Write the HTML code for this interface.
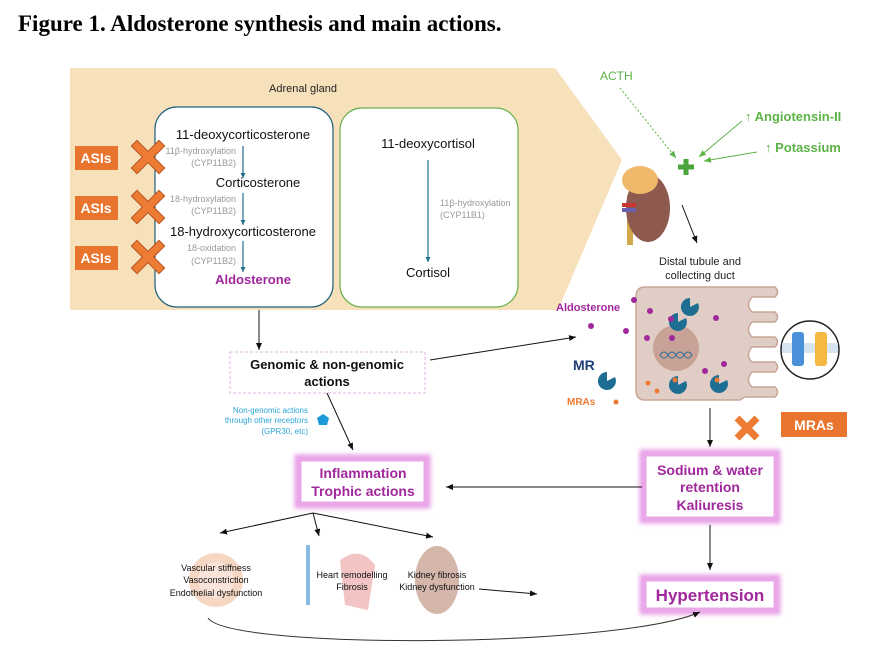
<!DOCTYPE html>
<html><head><meta charset="utf-8"><style>
body{margin:0;background:#fff;}
svg{display:block;font-family:"Liberation Sans",Arial,sans-serif;}
</style></head><body>
<svg width="877" height="658" viewBox="0 0 877 658" xmlns="http://www.w3.org/2000/svg">
<defs>
<marker id="a" markerWidth="8" markerHeight="8" refX="7" refY="4" orient="auto" markerUnits="userSpaceOnUse"><path d="M0,1 L7,4 L0,7 Z" fill="#111"/></marker>
<marker id="ab" markerWidth="6" markerHeight="6" refX="5" refY="3" orient="auto" markerUnits="userSpaceOnUse"><path d="M0,0.5 L5,3 L0,5.5 Z" fill="#1f6f8b"/></marker>
<marker id="ag" markerWidth="8" markerHeight="8" refX="7" refY="4" orient="auto" markerUnits="userSpaceOnUse"><path d="M0,1 L7,4 L0,7 Z" fill="#5cb346"/></marker>
<filter id="glow" x="-20%" y="-20%" width="140%" height="140%"><feGaussianBlur stdDeviation="2.5"/></filter>
</defs>
<text x="18" y="31" font-family="Liberation Serif,serif" font-weight="bold" font-size="23" fill="#000">Figure 1. Aldosterone synthesis and main actions.</text>

<path d="M70,68 L555,68 L622,160 L558,310 L70,310 Z" fill="#f5deb3" opacity="0.9"/>
<text x="303" y="92" font-size="11" text-anchor="middle" fill="#222">Adrenal gland</text>

<rect x="155" y="107" width="178" height="200" rx="22" fill="#fff" stroke="#1f5f7a" stroke-width="1.2"/>
<rect x="340" y="108" width="178" height="199" rx="22" fill="#fff" stroke="#6ab04c" stroke-width="1.2"/>

<g font-size="13" fill="#111" text-anchor="middle">
<text x="243" y="139">11-deoxycorticosterone</text>
<text x="258" y="187">Corticosterone</text>
<text x="243" y="236">18-hydroxycorticosterone</text>
<text x="428" y="148">11-deoxycortisol</text>
<text x="428" y="277">Cortisol</text>
</g>
<text x="253" y="284" font-size="13" font-weight="bold" fill="#a0279c" text-anchor="middle">Aldosterone</text>
<g font-size="9" fill="#999" text-anchor="end">
<text x="236" y="154">11β-hydroxylation</text><text x="236" y="166">(CYP11B2)</text>
<text x="236" y="202">18-hydroxylation</text><text x="236" y="214">(CYP11B2)</text>
<text x="236" y="251">18-oxidation</text><text x="236" y="264">(CYP11B2)</text>
</g>
<g font-size="9" fill="#999"><text x="440" y="206">11β-hydroxylation</text><text x="440" y="218">(CYP11B1)</text></g>
<g stroke="#1f6f8b" stroke-width="1.2" marker-end="url(#ab)">
<line x1="243" y1="146" x2="243" y2="178"/>
<line x1="243" y1="193" x2="243" y2="225"/>
<line x1="243" y1="241" x2="243" y2="272"/>
<line x1="428" y1="160" x2="428" y2="262"/>
</g>

<g font-size="14" font-weight="bold" fill="#fff" text-anchor="middle">
<rect x="75" y="146" width="43" height="24" fill="#e8742e"/><text x="96" y="163">ASIs</text>
<rect x="75" y="196" width="43" height="24" fill="#e8742e"/><text x="96" y="213">ASIs</text>
<rect x="75" y="246" width="43" height="24" fill="#e8742e"/><text x="96" y="263">ASIs</text>
</g>
<g stroke="#b5531c" stroke-width="9" stroke-linecap="square">
<path d="M137,146 L159,168 M159,146 L137,168"/>
<path d="M137,196 L159,218 M159,196 L137,218"/>
<path d="M137,246 L159,268 M159,246 L137,268"/>
</g>
<g stroke="#ee7b33" stroke-width="7" stroke-linecap="square">
<path d="M137,146 L159,168 M159,146 L137,168"/>
<path d="M137,196 L159,218 M159,196 L137,218"/>
<path d="M137,246 L159,268 M159,246 L137,268"/>
</g>

<text x="600" y="80" font-size="12" fill="#5cb346">ACTH</text>
<line x1="620" y1="88" x2="676" y2="158" stroke="#5cb346" stroke-dasharray="2,2" marker-end="url(#ag)"/>
<text x="745" y="121" font-size="13" font-weight="bold" fill="#5cb346">↑ Angiotensin-II</text>
<text x="765" y="152" font-size="13" font-weight="bold" fill="#5cb346">↑ Potassium</text>
<line x1="742" y1="121" x2="699" y2="157" stroke="#5cb346" marker-end="url(#ag)"/>
<line x1="757" y1="152" x2="704" y2="161" stroke="#5cb346" marker-end="url(#ag)"/>
<path d="M678,167 H694 M686,159 V175" stroke="#4aa53a" stroke-width="5"/>
<rect x="627" y="195" width="6" height="50" fill="#d3a84a"/>
<ellipse cx="648" cy="208" rx="22" ry="34" fill="#8e5a4f"/>
<ellipse cx="640" cy="180" rx="18" ry="14" fill="#f0b86b"/>
<rect x="622" y="203" width="14" height="4" fill="#c33"/><rect x="622" y="208" width="14" height="4" fill="#6b5fb0"/>
<line x1="682" y1="205" x2="697" y2="243" stroke="#111" marker-end="url(#a)"/>
<text x="700" y="265" font-size="11" text-anchor="middle" fill="#222">Distal tubule and</text>
<text x="700" y="279" font-size="11" text-anchor="middle" fill="#222">collecting duct</text>

<path d="M645,287 H775 Q780,292 775,297 H752 Q745,305 752,312 H775 Q780,317 775,322 H752 Q745,330 752,337 H775 Q780,342 775,347 H752 Q745,355 752,362 H775 Q780,367 775,372 H752 Q745,380 752,387 H775 Q780,392 775,397 H745 L740,400 H645 Q636,400 636,390 V297 Q636,287 645,287 Z" fill="#e0cec6" stroke="#c8a597" stroke-width="1.5"/>
<circle cx="676" cy="348" r="23" fill="#c9a297"/>
<path d="M660,355 q4,-6 8,0 t8,0 t8,0 t8,0" stroke="#2a6f97" fill="none"/>
<path d="M660,355 q4,6 8,0 t8,0 t8,0 t8,0" stroke="#2a6f97" fill="none"/>
<circle cx="810" cy="350" r="29" fill="#fff" stroke="#222" stroke-width="1.5"/>
<rect x="782" y="343" width="56" height="10" fill="#d6e4f0"/>
<rect x="792" y="332" width="12" height="34" rx="3" fill="#4a90d9"/>
<rect x="815" y="332" width="12" height="34" rx="3" fill="#f5b942"/>
<g fill="#1d6e92">
<path d="M690,298 a9,9 0 1,0 8,5 l-8,4 z"/>
<path d="M678,313 a9,9 0 1,0 8,5 l-8,4 z"/>
<path d="M607,372 a9,9 0 1,0 8,5 l-8,4 z"/>
<path d="M678,376 a9,9 0 1,0 8,5 l-8,4 z"/>
<path d="M719,375 a9,9 0 1,0 8,5 l-8,4 z"/>
</g>
<g fill="#a0279c">
<circle cx="634" cy="300" r="3"/><circle cx="650" cy="311" r="3"/><circle cx="671" cy="319" r="3"/><circle cx="716" cy="318" r="3"/>
<circle cx="591" cy="326" r="3"/><circle cx="626" cy="331" r="3"/><circle cx="647" cy="338" r="3"/><circle cx="672" cy="338" r="3"/>
<circle cx="705" cy="371" r="3"/><circle cx="724" cy="364" r="3"/>
</g>
<g fill="#ee7b33"><circle cx="648" cy="383" r="2.5"/><circle cx="657" cy="391" r="2.5"/><circle cx="675" cy="380" r="2.5"/><circle cx="717" cy="380" r="2.5"/><circle cx="616" cy="402" r="2.5"/></g>
<text x="556" y="311" font-size="11" font-weight="bold" fill="#a0279c">Aldosterone</text>
<text x="573" y="370" font-size="14" font-weight="bold" fill="#1f3f75">MR</text>
<text x="567" y="405" font-size="10" font-weight="bold" fill="#ee7b33">MRAs</text>
<line x1="430" y1="360" x2="576" y2="337" stroke="#111" marker-end="url(#a)"/>

<line x1="710" y1="408" x2="710" y2="447" stroke="#111" marker-end="url(#a)"/>
<path d="M737,418 L757,438 M757,418 L737,438" stroke="#ee7b33" stroke-width="7"/>
<rect x="781" y="412" width="66" height="25" fill="#e8742e"/>
<text x="814" y="430" font-size="14" font-weight="bold" fill="#fff" text-anchor="middle">MRAs</text>

<g fill="none" stroke="#e79be6" stroke-width="7" filter="url(#glow)">
<rect x="643" y="453" width="134" height="67"/><rect x="298" y="458" width="129" height="47"/><rect x="643" y="578" width="134" height="33"/>
</g>
<g fill="#fff" stroke="#e9a7e8" stroke-width="3">
<rect x="645" y="455" width="130" height="63"/><rect x="300" y="460" width="125" height="43"/><rect x="645" y="580" width="130" height="29"/>
</g>
<g font-weight="bold" fill="#a0279c" text-anchor="middle">
<text x="710" y="475" font-size="14">Sodium &amp; water</text>
<text x="710" y="492" font-size="14">retention</text>
<text x="710" y="510" font-size="14">Kaliuresis</text>
<text x="363" y="478" font-size="14">Inflammation</text>
<text x="363" y="496" font-size="14">Trophic actions</text>
<text x="710" y="601" font-size="17">Hypertension</text>
</g>
<line x1="642" y1="487" x2="446" y2="487" stroke="#111" marker-end="url(#a)"/>
<line x1="710" y1="525" x2="710" y2="570" stroke="#111" marker-end="url(#a)"/>

<line x1="259" y1="310" x2="259" y2="350" stroke="#111" marker-end="url(#a)"/>
<rect x="230" y="352" width="195" height="41" fill="#fff" stroke="#e6b3e6" stroke-dasharray="3,2"/>
<text x="327" y="369" font-size="13" font-weight="bold" text-anchor="middle" fill="#111">Genomic &amp; non-genomic</text>
<text x="327" y="386" font-size="13" font-weight="bold" text-anchor="middle" fill="#111">actions</text>
<g font-size="8" fill="#2aa6d8" text-anchor="end">
<text x="308" y="413">Non-genomic actions</text><text x="308" y="423">through other receptors</text><text x="308" y="434">(GPR30, etc)</text>
</g>
<path d="M323,414 L329,418 L327,425 L319,425 L317,418 Z" fill="#1a9ad6"/>
<line x1="327" y1="393" x2="353" y2="450" stroke="#111" marker-end="url(#a)"/>

<g stroke="#111" marker-end="url(#a)">
<line x1="313" y1="513" x2="220" y2="533"/><line x1="313" y1="513" x2="319" y2="536"/><line x1="313" y1="513" x2="433" y2="537"/>
</g>
<circle cx="216" cy="580" r="27" fill="#f2c6a9" opacity="0.7"/><circle cx="216" cy="580" r="18" fill="#fbe7e0" opacity="0.8"/>
<path d="M340,560 Q360,545 375,565 L368,610 L345,605 Z" fill="#e58a8a" opacity="0.5"/>
<rect x="306" y="545" width="4" height="60" fill="#3b8ed3" opacity="0.6"/>
<ellipse cx="437" cy="580" rx="22" ry="34" fill="#b07a66" opacity="0.55"/>
<g font-size="9" fill="#111" text-anchor="middle">
<text x="216" y="571">Vascular stiffness</text><text x="216" y="583">Vasoconstriction</text><text x="216" y="596">Endothelial dysfunction</text>
<text x="352" y="578">Heart remodelling</text><text x="352" y="590">Fibrosis</text>
<text x="437" y="578">Kidney fibrosis</text><text x="437" y="590">Kidney dysfunction</text>
</g>
<line x1="479" y1="589" x2="537" y2="594" stroke="#111" marker-end="url(#a)"/>
<path d="M208,618 C230,650 620,648 700,612" fill="none" stroke="#333" marker-end="url(#a)"/>
</svg>
</body></html>
